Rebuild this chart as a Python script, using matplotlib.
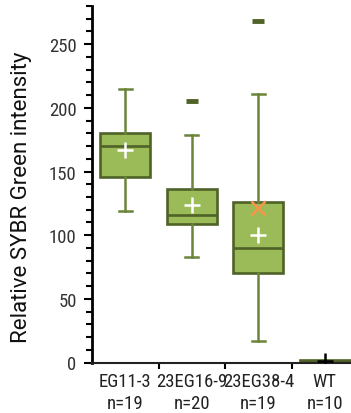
import matplotlib
matplotlib.use("Agg")
import matplotlib.pyplot as plt
from matplotlib import font_manager
from matplotlib.ticker import MultipleLocator, FixedLocator, NullFormatter

categories = ["EG11-3", "23EG16-9", "23EG38-4", "WT"]
counts = ["n=19", "n=20", "n=19", "n=10"]
whisker_low = [119, 83, 17, 0.5]
q1 = [146, 109, 70, 0.3]
median = [170, 115.5, 90, 1.0]
q3 = [180.5, 136, 126, 2.0]
whisker_high = [214.5, 178.5, 211, 2.0]
means = [167, 124, 100.5, 1.0]
outliers = [[], [205], [268], []]
extra_x_marker = [None, None, 121.5, None]

box_fill = "#9BBB59"
box_edge = "#4F6228"
whisk_col = "#6B8439"

# pick a condensed font if available
fl = font_manager.fontManager.ttflist
names = {f.name for f in fl}
narrow_family = "DejaVu Sans"
narrow_stretch = "normal"
for n in ["Roboto Condensed", "Liberation Sans Narrow", "Open Sans Condensed"]:
    if n in names:
        narrow_family = n
        break
else:
    for cand in ["Roboto", "Liberation Sans", "DejaVu Sans", "Open Sans"]:
        if any(f.name == cand and str(f.stretch) in ("condensed", "semi-condensed", "75", "87", "62")
               for f in fl):
            narrow_family = cand
            narrow_stretch = "condensed"
            break
narrow = dict(family=narrow_family, stretch=narrow_stretch)

fig = plt.figure(figsize=(3.51, 4.14), dpi=100)
ax = fig.add_axes([92/351, 50.5/414, 266/351, 356.5/414])

stats = []
for i in range(len(categories)):
    stats.append(dict(med=median[i], q1=q1[i], q3=q3[i], whislo=whisker_low[i],
                      whishi=whisker_high[i], fliers=outliers[i], mean=means[i],
                      label=categories[i]))

pos = list(range(len(categories)))
ax.bxp(stats, positions=pos, widths=0.75, patch_artist=True, showfliers=True,
       showmeans=False, capwidths=0.19,
       boxprops=dict(facecolor=box_fill, edgecolor=box_edge, linewidth=1.9),
       medianprops=dict(color=box_edge, linewidth=1.9),
       whiskerprops=dict(color=whisk_col, linewidth=1.8),
       capprops=dict(color=whisk_col, linewidth=1.8),
       flierprops=dict(marker="_", markersize=8, markeredgewidth=3.5,
                       markeredgecolor=box_edge))

for i, m in enumerate(means):
    col = "white" if i < 3 else "black"
    ax.plot(pos[i], m, marker="+", markersize=11, markeredgewidth=1.8, color=col,
            zorder=5)
for i, v in enumerate(extra_x_marker):
    if v is not None:
        ax.plot(pos[i], v, marker="x", markersize=10, markeredgewidth=1.8,
                color="#F79646", zorder=5)

ax.set_xlim(-0.5, 3.5)
ax.set_ylim(0, 280)
ax.yaxis.set_minor_locator(MultipleLocator(10))
ax.set_yticks([0, 50, 100, 150, 200, 250])

ax.xaxis.set_major_locator(FixedLocator([0.5, 1.5, 2.5]))
ax.xaxis.set_major_formatter(NullFormatter())
ax.xaxis.set_minor_locator(FixedLocator(pos))
ax.set_xticklabels([f"{c}\n{n}" for c, n in zip(categories, counts)], minor=True,
                   fontsize=13.5, linespacing=1.3, color="#222222",
                   fontfamily=narrow["family"], fontstretch=narrow["stretch"])
ax.tick_params(axis="x", which="minor", length=0, pad=7)
ax.tick_params(axis="x", which="major", length=4, width=1.5, direction="out")
ax.tick_params(axis="y", which="major", length=6, width=1.5, direction="out",
               labelsize=13.5, pad=5)
ax.tick_params(axis="y", which="minor", length=4, width=1.5, direction="out")
for lab in ax.get_yticklabels():
    lab.set_fontfamily(narrow["family"])
    lab.set_fontstretch(narrow["stretch"])
    lab.set_color("#333333")

for s in ["top", "right"]:
    ax.spines[s].set_visible(False)
ax.spines["left"].set_linewidth(2)
ax.spines["bottom"].set_linewidth(1.5)
ax.spines["bottom"].set_color("#222222")

ax.set_ylabel("Relative SYBR Green intensity", fontfamily="Roboto", fontsize=16,
              color="#111111")
ax.yaxis.set_label_coords(-0.225, (363.5 - 197) / 356.5)

fig.savefig("out.png", dpi=100)
